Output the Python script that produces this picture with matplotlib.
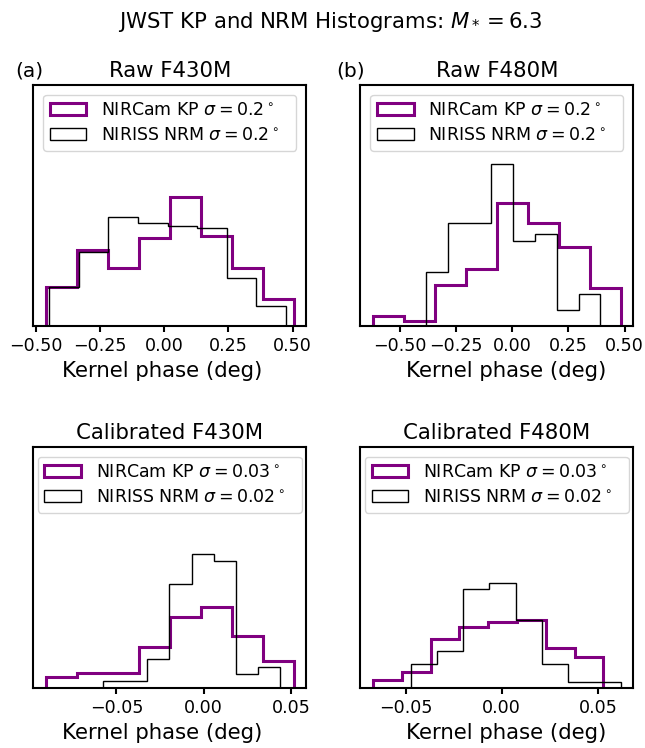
import matplotlib
matplotlib.use('Agg')
import matplotlib.pyplot as plt

# Histogram bin edges (deg) and densities
raw430_kp_edges = [-0.461, -0.340, -0.220, -0.099, 0.021, 0.142, 0.263, 0.383, 0.504]
raw430_kp_dens = [0.58, 1.12, 0.85, 1.29, 1.88, 1.32, 0.85, 0.40]
raw430_nrm_edges = [-0.448, -0.333, -0.217, -0.102, 0.013, 0.128, 0.244, 0.359, 0.474]
raw430_nrm_dens = [0.57, 1.09, 1.60, 1.51, 1.46, 1.43, 0.71, 0.29]

raw480_kp_edges = [-0.622, -0.484, -0.345, -0.207, -0.069, 0.069, 0.208, 0.346, 0.484]
raw480_kp_dens = [0.16, 0.08, 0.65, 0.90, 1.94, 1.62, 1.25, 0.60]
raw480_nrm_edges = [-0.386, -0.289, -0.191, -0.094, 0.003, 0.100, 0.197, 0.295, 0.392]
raw480_nrm_dens = [0.86, 1.62, 1.62, 2.55, 1.35, 1.46, 0.25, 0.51]

cal430_kp_edges = [-0.0905, -0.0728, -0.0550, -0.0373, -0.0195, -0.0018, 0.0160, 0.0338, 0.0515]
cal430_kp_dens = [1.95, 2.66, 2.66, 7.40, 12.72, 14.50, 9.29, 4.91]
cal430_nrm_edges = [-0.0578, -0.0451, -0.0324, -0.0197, -0.0070, 0.0058, 0.0185, 0.0312, 0.0439]
cal430_nrm_dens = [1.36, 1.36, 5.21, 18.52, 23.79, 22.49, 2.54, 3.85]

cal480_kp_edges = [-0.0670, -0.0520, -0.0370, -0.0221, -0.0071, 0.0079, 0.0229, 0.0378, 0.0528]
cal480_kp_dens = [1.63, 3.27, 9.61, 12.09, 12.94, 13.40, 7.84, 6.21]
cal480_nrm_edges = [-0.0474, -0.0337, -0.0201, -0.0064, 0.0072, 0.0209, 0.0346, 0.0482, 0.0619]
cal480_nrm_dens = [4.77, 7.32, 19.41, 20.72, 13.40, 4.77, 1.31, 1.31]

titles = ['Raw F430M', 'Raw F480M', 'Calibrated F430M', 'Calibrated F480M']
kp_sigma = ['0.2', '0.2', '0.03', '0.03']
nrm_sigma = ['0.2', '0.2', '0.02', '0.02']
ytops = [3.52, 3.80, 42.8, 47.3]
xlabel_x = [0.471, 0.534, 0.471, 0.533]

panels = [
    (raw430_kp_edges, raw430_kp_dens, raw430_nrm_edges, raw430_nrm_dens),
    (raw480_kp_edges, raw480_kp_dens, raw480_nrm_edges, raw480_nrm_dens),
    (cal430_kp_edges, cal430_kp_dens, cal430_nrm_edges, cal430_nrm_dens),
    (cal480_kp_edges, cal480_kp_dens, cal480_nrm_edges, cal480_nrm_dens),
]

plt.rcParams['axes.linewidth'] = 1.5
plt.rcParams['xtick.major.width'] = 1.5
plt.rcParams['xtick.major.size'] = 4.5

fig, axes = plt.subplots(2, 2, figsize=(6.45, 7.48), dpi=100)
fig.subplots_adjust(left=0.0516, right=0.9819, top=0.8864, bottom=0.0798,
                    wspace=0.199, hspace=0.5)

for i, ax in enumerate(axes.flat):
    kpe, kpd, nre, nrd = panels[i]
    ax.hist(kpe[:-1], bins=kpe, weights=kpd, histtype='step', color='purple',
            lw=2.2, label=r'NIRCam KP $\sigma=%s^\circ$  ' % kp_sigma[i])
    ax.hist(nre[:-1], bins=nre, weights=nrd, histtype='step', color='k',
            lw=1.0, label=r'NIRISS NRM $\sigma=%s^\circ$  ' % nrm_sigma[i])
    ax.set_ylim(0, ytops[i])
    ax.set_yticks([])
    ax.tick_params(axis='x', labelsize=12.6)
    ax.set_xlabel('Kernel phase (deg)', fontsize=15.3)
    ax.xaxis.label.set_x(xlabel_x[i])
    ax.set_title(titles[i], fontsize=15.3)
    ax.legend(loc='upper center', fontsize=12.5, labelspacing=0.4,
              borderpad=0.38, handlelength=2.1, handleheight=0.75,
              handletextpad=0.85, borderaxespad=0.55)

fig.text(15 / 645, 1 - 76.5 / 748, '(a)', fontsize=14.5, va='baseline')
fig.text(336.7 / 645, 1 - 76.5 / 748, '(b)', fontsize=14.5, va='baseline')
fig.text(330 / 645, 1 - 28.5 / 748, r'JWST KP and NRM Histograms: $M_*=6.3$',
         fontsize=15.3, ha='center', va='baseline')

fig.savefig('out.png', dpi=100)
